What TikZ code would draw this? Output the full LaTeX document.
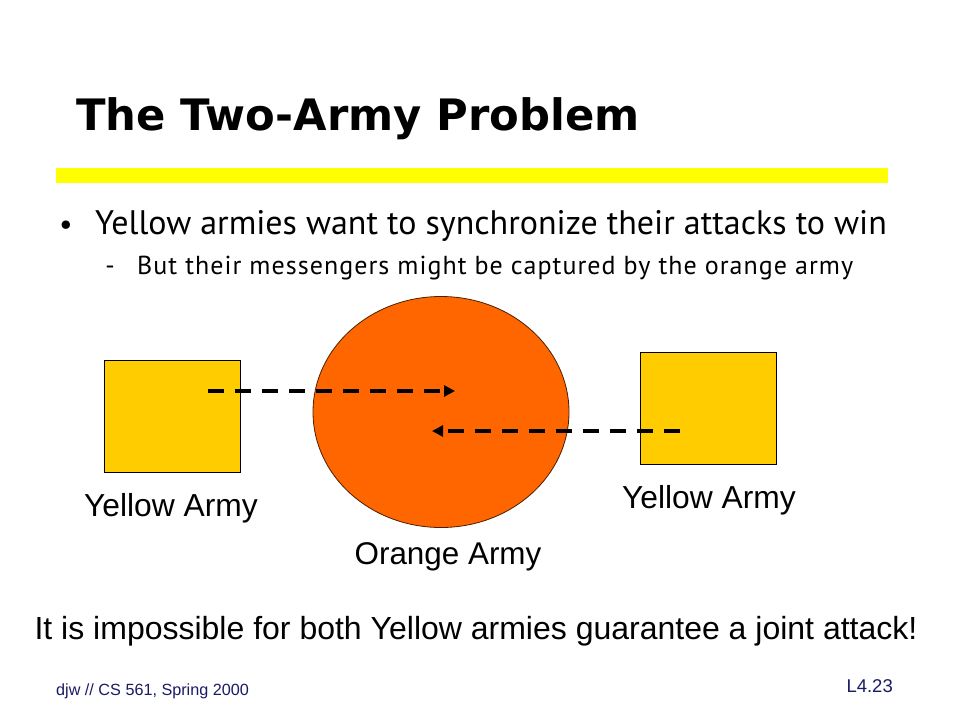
\documentclass[tikz,border=0pt]{standalone}
\usepackage{fontspec}
\setmainfont{Liberation Sans}
\newfontfamily\titlefont{DejaVu Sans}
\newfontfamily\bulletfont{PT Sans}
\newfontfamily\subfont{PT Sans}[LetterSpace=4]
\usepackage{tikz}
\usetikzlibrary{arrows.meta,shapes.geometric}
\tikzset{>={Triangle[width=11pt,length=11pt]}}
\definecolor{armyyellow}{HTML}{FFCC00}
\definecolor{armyorange}{HTML}{FF6600}
\definecolor{barcolor}{HTML}{FFFF00}
\definecolor{footnavy}{HTML}{1A1A66}
\tikzset{
  armybox/.style={draw=black, line width=1pt, fill=armyyellow, minimum width=136pt, minimum height=112pt, inner sep=0pt},
  enemy/.style={ellipse, draw=black!70!armyorange, line width=0.8pt, fill=armyorange, minimum width=256pt, minimum height=231pt, inner sep=0pt},
  messenger/.style={->, line width=4.5pt, dash pattern=on 16pt off 11pt},
  armylabel/.style={font=\fontsize{31.8}{34}\selectfont, inner sep=0pt}
}

\begin{document}
\begin{tikzpicture}[x=1pt, y=-1pt]
  \useasboundingbox (0,0) rectangle (960,720);

  %% title and bar
  \node[anchor=base west, inner sep=0pt, font=\titlefont\bfseries\fontsize{43.3}{48}\selectfont] (title) at (76,130) {The Two-Army Problem};
  \fill[barcolor] (56,168) rectangle (888,183);

  %% bullets
  \node[anchor=base, inner sep=0pt, font=\bulletfont\fontsize{30}{34}\selectfont] (dot) at (66,234) {•};
  \node[anchor=base west, inner sep=0pt, font=\bulletfont\fontsize{34}{38}\selectfont] (point) at (95,234) {Yellow armies want to synchronize their attacks to win};
  \node[anchor=base, inner sep=0pt, font=\subfont\fontsize{26}{30}\selectfont] (dash) at (110,274) {-};
  \node[anchor=base west, inner sep=0pt, font=\subfont\fontsize{26}{30}\selectfont] (subpoint) at (137,274) {But their messengers might be captured by the orange army};

  %% armies
  \node[armybox] (west) at (172,416) {};
  \node[armybox] (east) at (708,408) {};
  \node[enemy] (orange) at (441,412) {};

  \coordinate (wfrom) at (208,391);
  \coordinate (wto) at (455,391);
  \coordinate (efrom) at (680,431);
  \coordinate (eto) at (432,431);
  \draw[messenger] (wfrom) -- (wto);
  \draw[messenger] (efrom) -- (eto);

  \node[armylabel, anchor=base] (westname) at (171,516) {Yellow Army};
  \node[armylabel, anchor=base] (eastname) at (709,508) {Yellow Army};
  \node[armylabel, anchor=base, font=\fontsize{31.4}{34}\selectfont] (orangename) at (448,564) {Orange Army};

  %% conclusion
  \node[anchor=base, inner sep=0pt, font=\fontsize{32}{36}\selectfont] (claim) at (476,639) {It is impossible for both Yellow armies guarantee a joint attack!};

  %% footer
  \node[anchor=base west, inner sep=0pt, text=footnavy, font=\fontsize{16.2}{18}\selectfont] (course) at (56,695) {djw // CS 561, Spring 2000};
  \node[anchor=base east, inner sep=0pt, text=footnavy, font=\fontsize{18.5}{20}\selectfont] (slide) at (893,692) {L4.23};
\end{tikzpicture}
\end{document}
